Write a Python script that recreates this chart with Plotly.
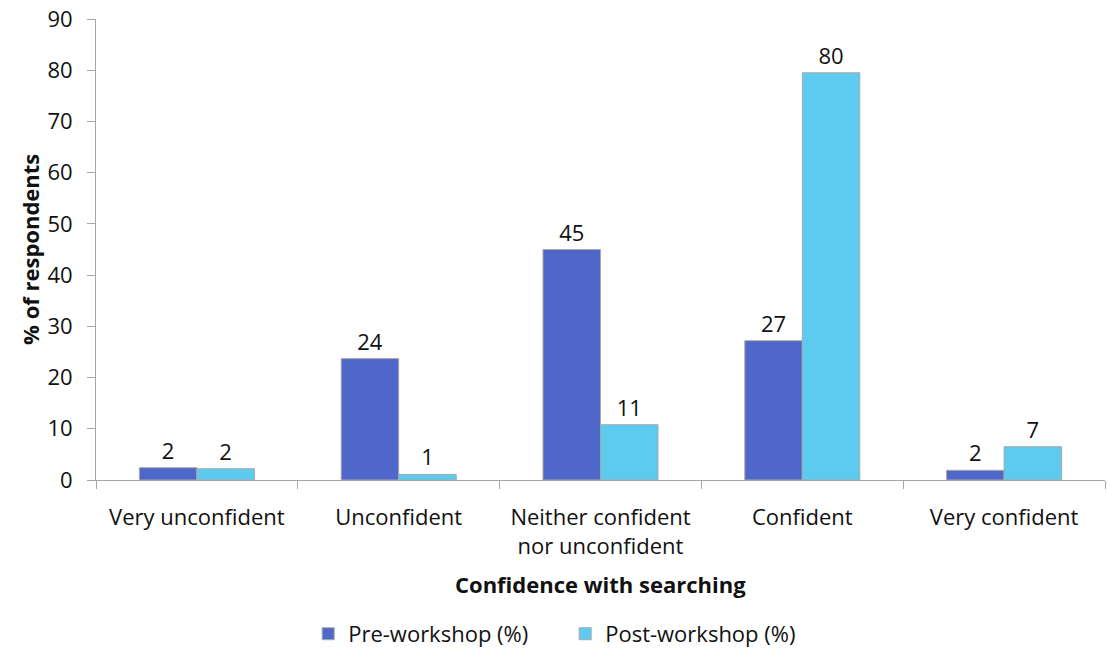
import plotly.graph_objects as go

categories = ["Very unconfident", "Unconfident", "Neither confident<br>nor unconfident", "Confident", "Very confident"]
pre_values = [2.4, 23.7, 45.0, 27.2, 1.9]
post_values = [2.2, 1.1, 10.8, 79.5, 6.5]
pre_labels = ["2", "24", "45", "27", "2"]
post_labels = ["2", "1", "11", "80", "7"]

FONT = "Open Sans"
FS = 22

fig = go.Figure()
fig.add_trace(go.Bar(
    x=categories, y=pre_values, name="Pre-workshop (%)",
    text=pre_labels, textposition="outside", cliponaxis=False,
    textfont=dict(size=FS, color="#111111", family=FONT),
    marker=dict(color="#4F67C8", line=dict(color="#a8a8a8", width=1)),
))
fig.add_trace(go.Bar(
    x=categories, y=post_values, name="Post-workshop (%)",
    text=post_labels, textposition="outside", cliponaxis=False,
    textfont=dict(size=FS, color="#111111", family=FONT),
    marker=dict(color="#5DCBF0", line=dict(color="#a8a8a8", width=1)),
))

fig.update_layout(
    width=1107, height=655,
    margin=dict(l=96, r=2, t=19, b=174),
    paper_bgcolor="white", plot_bgcolor="white",
    barmode="group", bargap=0.43, bargroupgap=0,
    font=dict(family=FONT, size=FS, color="#111111"),
    showlegend=True,
    legend=dict(orientation="h", x=0.465, xanchor="center", y=-0.331, yanchor="middle",
                font=dict(size=FS, family=FONT), itemwidth=30, traceorder="normal",
                entrywidth=212, entrywidthmode="pixels"),
    xaxis=dict(
        showline=True, linecolor="#a6a6a6", linewidth=1,
        ticks="outside", tickson="boundaries", ticklen=8, tickcolor="#a6a6a6",
        tickfont=dict(size=FS, family=FONT), showgrid=False, ticklabelstandoff=18,
    ),
    yaxis=dict(
        range=[0, 90], dtick=10, showline=True, linecolor="#a6a6a6", linewidth=1,
        ticks="outside", ticklen=8, tickcolor="#a6a6a6", showgrid=False, zeroline=False,
        tickfont=dict(size=FS, family=FONT), ticklabelstandoff=10,
    ),
    annotations=[
        dict(text="<b>Confidence with searching</b>", x=0.5, xref="paper", y=-0.225, yref="paper",
             xanchor="center", yanchor="middle", showarrow=False, font=dict(size=FS, family=FONT)),
        dict(text="<b>% of respondents</b>", x=-0.066, xref="paper", y=0.5, yref="paper",
             xanchor="center", yanchor="middle", textangle=-90, showarrow=False,
             font=dict(size=FS, family=FONT)),
    ],
)

fig.write_html("out.html")
